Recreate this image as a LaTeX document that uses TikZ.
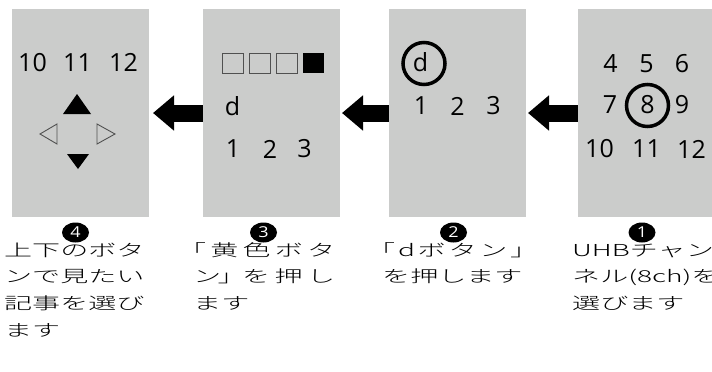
\documentclass[tikz,border=0pt]{standalone}
\usepackage{fontspec}
\newfontfamily\digitfont{Open Sans}
\newfontfamily\jpfont[FakeStretch=1.7]{Noto Sans CJK JP Light}
\newfontfamily\circfont[FakeStretch=1.2]{Open Sans}
\usetikzlibrary{shapes.geometric,arrows.meta}
\definecolor{panelgray}{RGB}{203,204,203}
\definecolor{outlinegray}{RGB}{80,80,80}
\begin{document}
\begin{tikzpicture}[x=1pt,y=-1pt,
  panel/.style={rectangle, fill=panelgray, draw=none, minimum width=137pt, minimum height=208pt, inner sep=0},
  num/.style={font=\digitfont\fontsize{25}{25}\selectfont, inner sep=0},
  jp/.style={font=\jpfont\fontsize{16.5}{26.7}\selectfont, inner sep=0, anchor=base west},
  badge/.style={ellipse, fill=black, text=white, minimum width=27pt, minimum height=20pt, inner sep=0, font=\circfont\fontsize{15}{15}\selectfont},
  bigarrow/.style={line width=17pt, -{Triangle[width=34pt,length=21pt]}},
  ring/.style={circle, draw=black, line width=3.5pt, minimum size=42pt, inner sep=0},
  hollowtri/.style={draw=outlinegray, line width=0.9pt, fill=none},
  solidtri/.style={fill=black, draw=none},
  keybox/.style={draw=outlinegray, line width=0.9pt}
]
\useasboundingbox (0,0) rectangle (712,372);
\fill[white] (0,0) rectangle (712,372);

% panels
\node[panel] (p1) at (80.5,113) {};
\node[panel] (p2) at (271.5,113) {};
\node[panel] (p3) at (457.5,113) {};
\node[panel] (p4) at (646.5,113) {};

% arrows
\coordinate (t1) at (153,113);
\coordinate (t2) at (342,113);
\coordinate (t3) at (528,113);
\draw[bigarrow] (p2.west) -- (t1);
\draw[bigarrow] (p3.west) -- (t2);
\draw[bigarrow] (p4.west) -- (t3);

% panel 1
\node[num] (a10) at (32.5,62.5) {10};
\node[num] (a11) at (77.5,62.5) {11};
\node[num] (a12) at (123.5,62.5) {12};
\fill[solidtri] (63,114) -- (91,114) -- (77,94) -- cycle;
\fill[solidtri] (67,154) -- (89,154) -- (78,169) -- cycle;
\draw[hollowtri] (57,124) -- (57,144) -- (40,134) -- cycle;
\draw[hollowtri] (97,124) -- (97,144) -- (115,134) -- cycle;

% panel 2
\draw[keybox] (222,53) rectangle (243,73);
\draw[keybox] (249,53) rectangle (270,73);
\draw[keybox] (276,53) rectangle (297,73);
\fill[black] (303,53) rectangle (324,73);
\node[num] (bd) at (232.5,106.5) {d};
\node[num] (b1) at (233,149) {1};
\node[num] (b2) at (270,149) {2};
\node[num] (b3) at (304.5,149) {3};

% panel 3
\node[ring] (cring) at (424,63.5) {};
\node[num] (cd) at (420.5,62.5) {d};
\node[num] (c1) at (421,106) {1};
\node[num] (c2) at (457.5,106) {2};
\node[num] (c3) at (493.5,106) {3};

% panel 4
\node[num] (d4) at (610.5,64) {4};
\node[num] (d5) at (646.5,64) {5};
\node[num] (d6) at (682,64) {6};
\node[num] (d7) at (610,105) {7};
\node[ring] (dring) at (647.5,105.5) {};
\node[num] (d8) at (647.5,105) {8};
\node[num] (d9) at (682,105) {9};
\node[num] (d10) at (599.5,149) {10};
\node[num] (d11) at (646.5,149) {11};
\node[num] (d12) at (691.5,149) {12};

% badges
\node[badge] (n4) at (75.5,232.5) {4};
\node[badge] (n3) at (263.5,232.5) {3};
\node[badge] (n2) at (453.5,232.5) {2};
\node[badge] (n1) at (642,232.5) {1};

% captions
\node[jp] (s4a) at (4,256) {上下のボタ};
\node[jp] (s4b) at (4,282.7) {ンで見たい};
\node[jp] (s4c) at (4,309.4) {記事を選び};
\node[jp] (s4d) at (4,336.1) {ます};

\node[jp] (s3a) at (193,256) {\makebox[142pt][s]{\kern-15pt 「\hfil 黄\hfil 色\hfil ボ\hfil タ}};
\node[jp] (s3b) at (193,282.7) {\makebox[142pt][s]{ン\hfil\kern-8pt 」\kern-8pt\hfil を\hfil 押\hfil し}};
\node[jp] (s3c) at (193,309.4) {ます};

\node[jp] (s2a) at (382,256) {\makebox[141pt][s]{\kern-15pt 「\hfil d\hfil ボ\hfil タ\hfil ン\hfil 」\kern-15pt}};
\node[jp] (s2b) at (382,282.7) {を押します};

\node[jp] (s1a) at (572,256) {UHBチャン};
\node[jp] (s1b) at (572,282.7) {ネル(8ch)を};
\node[jp] (s1c) at (572,309.4) {選びます};
\end{tikzpicture}
\end{document}
